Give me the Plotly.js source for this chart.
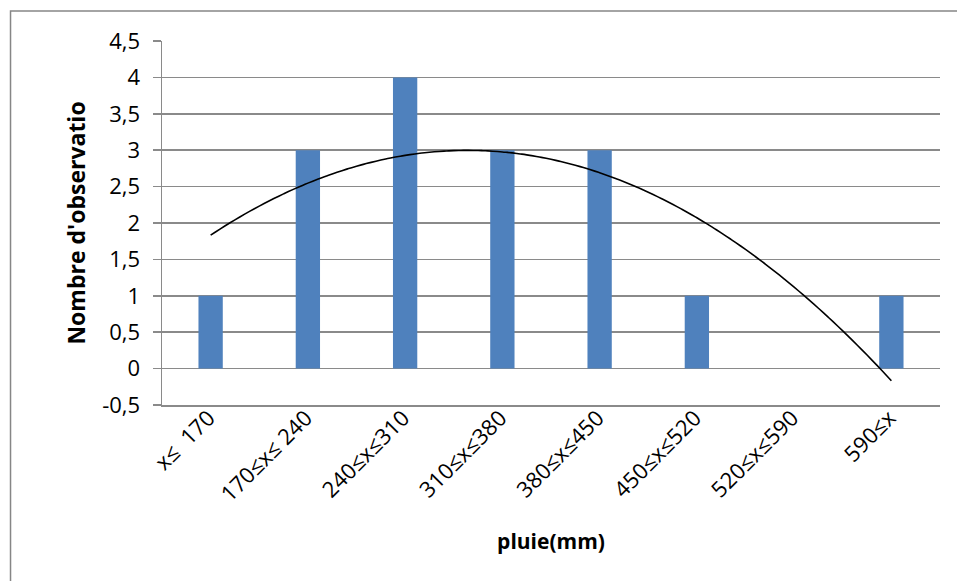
<!DOCTYPE html>
<html>
<head>
<meta charset="utf-8">
<script src="https://cdn.plot.ly/plotly-3.0.1.min.js"></script>
<style>
html,body{margin:0;padding:0;background:#fff;}
#chart{width:957px;height:581px;}
</style>
</head>
<body>
<div id="chart"></div>
<script>
// Data
const categories = ["x≤  170", "170≤x≤ 240", "240≤x≤310", "310≤x≤380", "380≤x≤450", "450≤x≤520", "520≤x≤590", "590≤x"];
const observations = [1, 3, 4, 3, 3, 1, 0, 1];
const yTickValues = [-0.5, 0, 0.5, 1, 1.5, 2, 2.5, 3, 3.5, 4, 4.5];
const yTickLabels = ["-0,5", "0", "0,5", "1", "1,5", "2", "2,5", "3", "3,5", "4", "4,5"];
const xAxisTitle = "pluie(mm)";
const yAxisTitle = "Nombre d'observatio";

// category positions 1..n
const xPos = categories.map((_, i) => i + 1);

// Order-2 polynomial trendline (least squares), as in the spreadsheet
function polyFit2(xs, ys) {
  let S = [0,0,0,0,0], T = [0,0,0];
  for (let i = 0; i < xs.length; i++) {
    let p = 1;
    for (let k = 0; k <= 4; k++) { S[k] += p; if (k <= 2) T[k] += p * ys[i]; p *= xs[i]; }
  }
  const A = [[S[0],S[1],S[2],T[0]],[S[1],S[2],S[3],T[1]],[S[2],S[3],S[4],T[2]]];
  for (let c = 0; c < 3; c++) {
    for (let r = c + 1; r < 3; r++) {
      const f = A[r][c] / A[c][c];
      for (let k = c; k < 4; k++) A[r][k] -= f * A[c][k];
    }
  }
  const coef = [0,0,0];
  for (let r = 2; r >= 0; r--) {
    let s = A[r][3];
    for (let k = r + 1; k < 3; k++) s -= A[r][k] * coef[k];
    coef[r] = s / A[r][r];
  }
  return coef;
}
const coef = polyFit2(xPos, observations);
const trendX = [], trendY = [];
for (let i = 0; i <= 140; i++) {
  const x = 1 + (xPos.length - 1) * i / 140;
  trendX.push(x);
  trendY.push(coef[0] + coef[1] * x + coef[2] * x * x);
}

const font = "Open Sans, Liberation Sans, sans-serif";
const grid = "#8a8a8a";

const traces = [
  {
    type: "bar", x: xPos, y: observations, width: 0.25,
    marker: {color: "#4f81bd", line: {width: 0}},
    hoverinfo: "skip", showlegend: false
  },
  {
    type: "scatter", mode: "lines", x: trendX, y: trendY,
    line: {color: "#000000", width: 1.6, shape: "spline"},
    hoverinfo: "skip", showlegend: false
  }
];

const layout = {
  width: 957, height: 581,
  margin: {l: 162, r: 17, t: 41, b: 176},
  paper_bgcolor: "rgba(0,0,0,0)",
  plot_bgcolor: "#ffffff",
  separators: ", ",
  showlegend: false,
  font: {family: font, size: 20, color: "#000"},
  xaxis: {
    range: [0.5, categories.length + 0.5],
    tickmode: "array", tickvals: xPos, ticktext: categories,
    tickangle: -45, ticks: "", showgrid: false, zeroline: false,
    showline: true, linecolor: grid, linewidth: 1.5,
    ticklabelshift: -2, ticklabelstandoff: -10,
    tickfont: {family: font, size: 22, color: "#000"},
    title: {text: xAxisTitle, font: {family: font, size: 21, weight: "bold", color: "#000"}, standoff: 28},
    fixedrange: true
  },
  yaxis: {
    range: [-0.5, 4.5],
    tickmode: "array", tickvals: yTickValues, ticktext: yTickLabels,
    ticks: "outside", ticklen: 8, tickcolor: grid, tickwidth: 1.5,
    ticklabelstandoff: 8,
    showgrid: true, gridcolor: grid, gridwidth: 1.5, zeroline: false,
    showline: true, linecolor: grid, linewidth: 1.5,
    tickfont: {family: font, size: 22, color: "#000"},
    title: {text: yAxisTitle, font: {family: font, size: 23, weight: "bold", color: "#000"}, standoff: 10},
    fixedrange: true
  },
  shapes: [
    {type: "rect", xref: "paper", yref: "paper",
     x0: -0.1947, x1: 1.03, y0: -0.5, y1: 1.0824,
     line: {color: "#868686", width: 1.5}, fillcolor: "rgba(0,0,0,0)", layer: "below"}
  ]
};

Plotly.newPlot("chart", traces, layout, {displayModeBar: false, staticPlot: true});
</script>
</body>
</html>
